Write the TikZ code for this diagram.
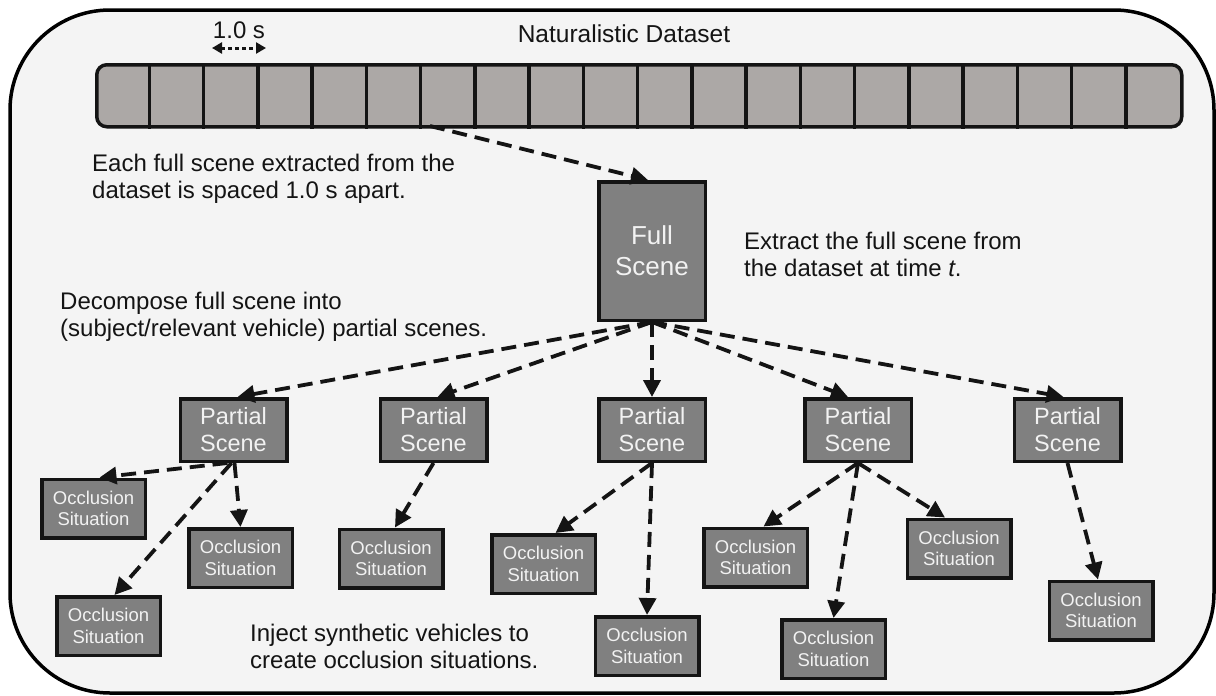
\documentclass[tikz,border=0pt]{standalone}
\usepackage{fontspec}
\setmainfont{Liberation Sans}
\usetikzlibrary{arrows.meta,calc}

\definecolor{panelbg}{HTML}{F4F4F4}
\definecolor{boxfill}{HTML}{808080}
\definecolor{boxtext}{HTML}{F2F2F2}
\definecolor{barfill}{HTML}{ACA8A6}
\definecolor{ink}{HTML}{141414}

\tikzset{
  sbox/.style={draw=ink, line width=3.5pt, fill=boxfill, text=boxtext,
    align=center, inner sep=0pt},
  fullbox/.style={sbox, minimum width=106.5pt, minimum height=138.5pt,
    font=\fontsize{26}{31}\selectfont},
  partbox/.style={sbox, minimum width=106.5pt, minimum height=62.5pt,
    font=\fontsize{23.5}{27}\selectfont},
  occbox/.style={sbox, minimum width=103.5pt, minimum height=58.5pt,
    font=\fontsize{18.5}{21.5}\selectfont},
  note/.style={anchor=base west, inner sep=0pt, align=left, text=ink,
    font=\fontsize{24}{27}\selectfont},
  conn/.style={draw=ink, line width=3.8pt, dash pattern=on 15pt off 8pt,
    -{Triangle[length=17pt,width=17pt]}},
}

\begin{document}
\begin{tikzpicture}[x=1pt, y=-1pt]
\useasboundingbox (0,0) rectangle (1216,696);

% outer panel
\draw[line width=3.5pt, draw=black, fill=panelbg, rounded corners=100pt]
  (10,10) rectangle (1214,693);

% titles above the time bar
\node[anchor=base, inner sep=0pt, text=ink, font=\fontsize{24.5}{28}\selectfont]
  (title) at (624,42) {Naturalistic Dataset};
\node[anchor=base, inner sep=0pt, text=ink, font=\fontsize{24}{27}\selectfont]
  (step) at (239,38) {1.0 s};
\coordinate (dl) at (212,48);
\coordinate (dr) at (266,48);
\draw[draw=ink, line width=3pt, dash pattern=on 4pt off 3pt,
  {Triangle[length=10pt,width=11pt]}-{Triangle[length=10pt,width=11pt]}] (dl) -- (dr);

% time bar of 1.0 s frames
\node[draw=ink, line width=3.5pt, fill=barfill, rounded corners=10pt,
  minimum width=1085pt, minimum height=62pt, inner sep=0pt, anchor=north west]
  (bar) at (95,63) {};
\foreach \i in {1,...,19} {
  \draw[draw=ink, line width=3.5pt] ($(bar.north west)+(\i*54.25,0)$) -- ($(bar.south west)+(\i*54.25,0)$);
}
\coordinate (frame) at (430,126);

% scenes
\node[fullbox] (full) at (652,251) {Full\\Scene};

\node[partbox] (ps1) at (233.5,430) {Partial\\Scene};
\node[partbox] (ps2) at (433.5,430) {Partial\\Scene};
\node[partbox] (ps3) at (652,430) {Partial\\Scene};
\node[partbox] (ps4) at (858,430) {Partial\\Scene};
\node[partbox] (ps5) at (1067.5,430) {Partial\\Scene};

\node[occbox] (os1) at (93.5,508.5) {Occlusion\\Situation};
\node[occbox] (os2) at (240.5,558) {Occlusion\\Situation};
\node[occbox] (os3) at (108.5,626) {Occlusion\\Situation};
\node[occbox] (os4) at (391,558.5) {Occlusion\\Situation};
\node[occbox] (os5) at (543.5,564) {Occlusion\\Situation};
\node[occbox] (os6) at (647,646) {Occlusion\\Situation};
\node[occbox] (os7) at (755.5,557.5) {Occlusion\\Situation};
\node[occbox] (os8) at (833.5,649) {Occlusion\\Situation};
\node[occbox] (os9) at (959,548.5) {Occlusion\\Situation};
\node[occbox] (os10) at (1101,610.5) {Occlusion\\Situation};

% notes (anchored on the baseline of their last line)
\node[note] (n1) at (92,198) {Each full scene extracted from the\\dataset is spaced 1.0 s apart.};
\node[note] (n2) at (744,276) {Extract the full scene from\\the dataset at time \textit{t}.};
\node[note] (n3) at (60,336) {Decompose full scene into\\(subject/relevant vehicle) partial scenes.};
\node[note] (n4) at (250,668) {Inject synthetic vehicles to\\create occlusion situations.};

% connectors
\draw[conn] (frame) -- ([xshift=-4pt]full.north);

\draw[conn] (full.south) -- ([xshift=4pt]ps1.north);
\draw[conn] (full.south) -- ([xshift=4pt]ps2.north);
\draw[conn] (full.south) -- (ps3.north);
\draw[conn] (full.south) -- ([xshift=-10pt]ps4.north);
\draw[conn] (full.south) -- ([xshift=-4pt]ps5.north);

\draw[conn] ([xshift=-6pt]ps1.south) -- ([xshift=6pt]os1.north);
\draw[conn] ([xshift=1pt]ps1.south) -- (os2.north);
\draw[conn] ([xshift=-2pt]ps1.south) -- ([xshift=6pt]os3.north);
\draw[conn] (ps2.south) -- ([xshift=4pt]os4.north);
\draw[conn] (ps3.south) -- ([xshift=12pt]os5.north);
\draw[conn] (ps3.south) -- (os6.north);
\draw[conn] (ps4.south) -- ([xshift=8pt]os7.north);
\draw[conn] (ps4.south) -- (os8.north);
\draw[conn] (ps4.south) -- ([xshift=-14pt]os9.north);
\draw[conn] (ps5.south) -- ([xshift=-3pt]os10.north);
\end{tikzpicture}
\end{document}
